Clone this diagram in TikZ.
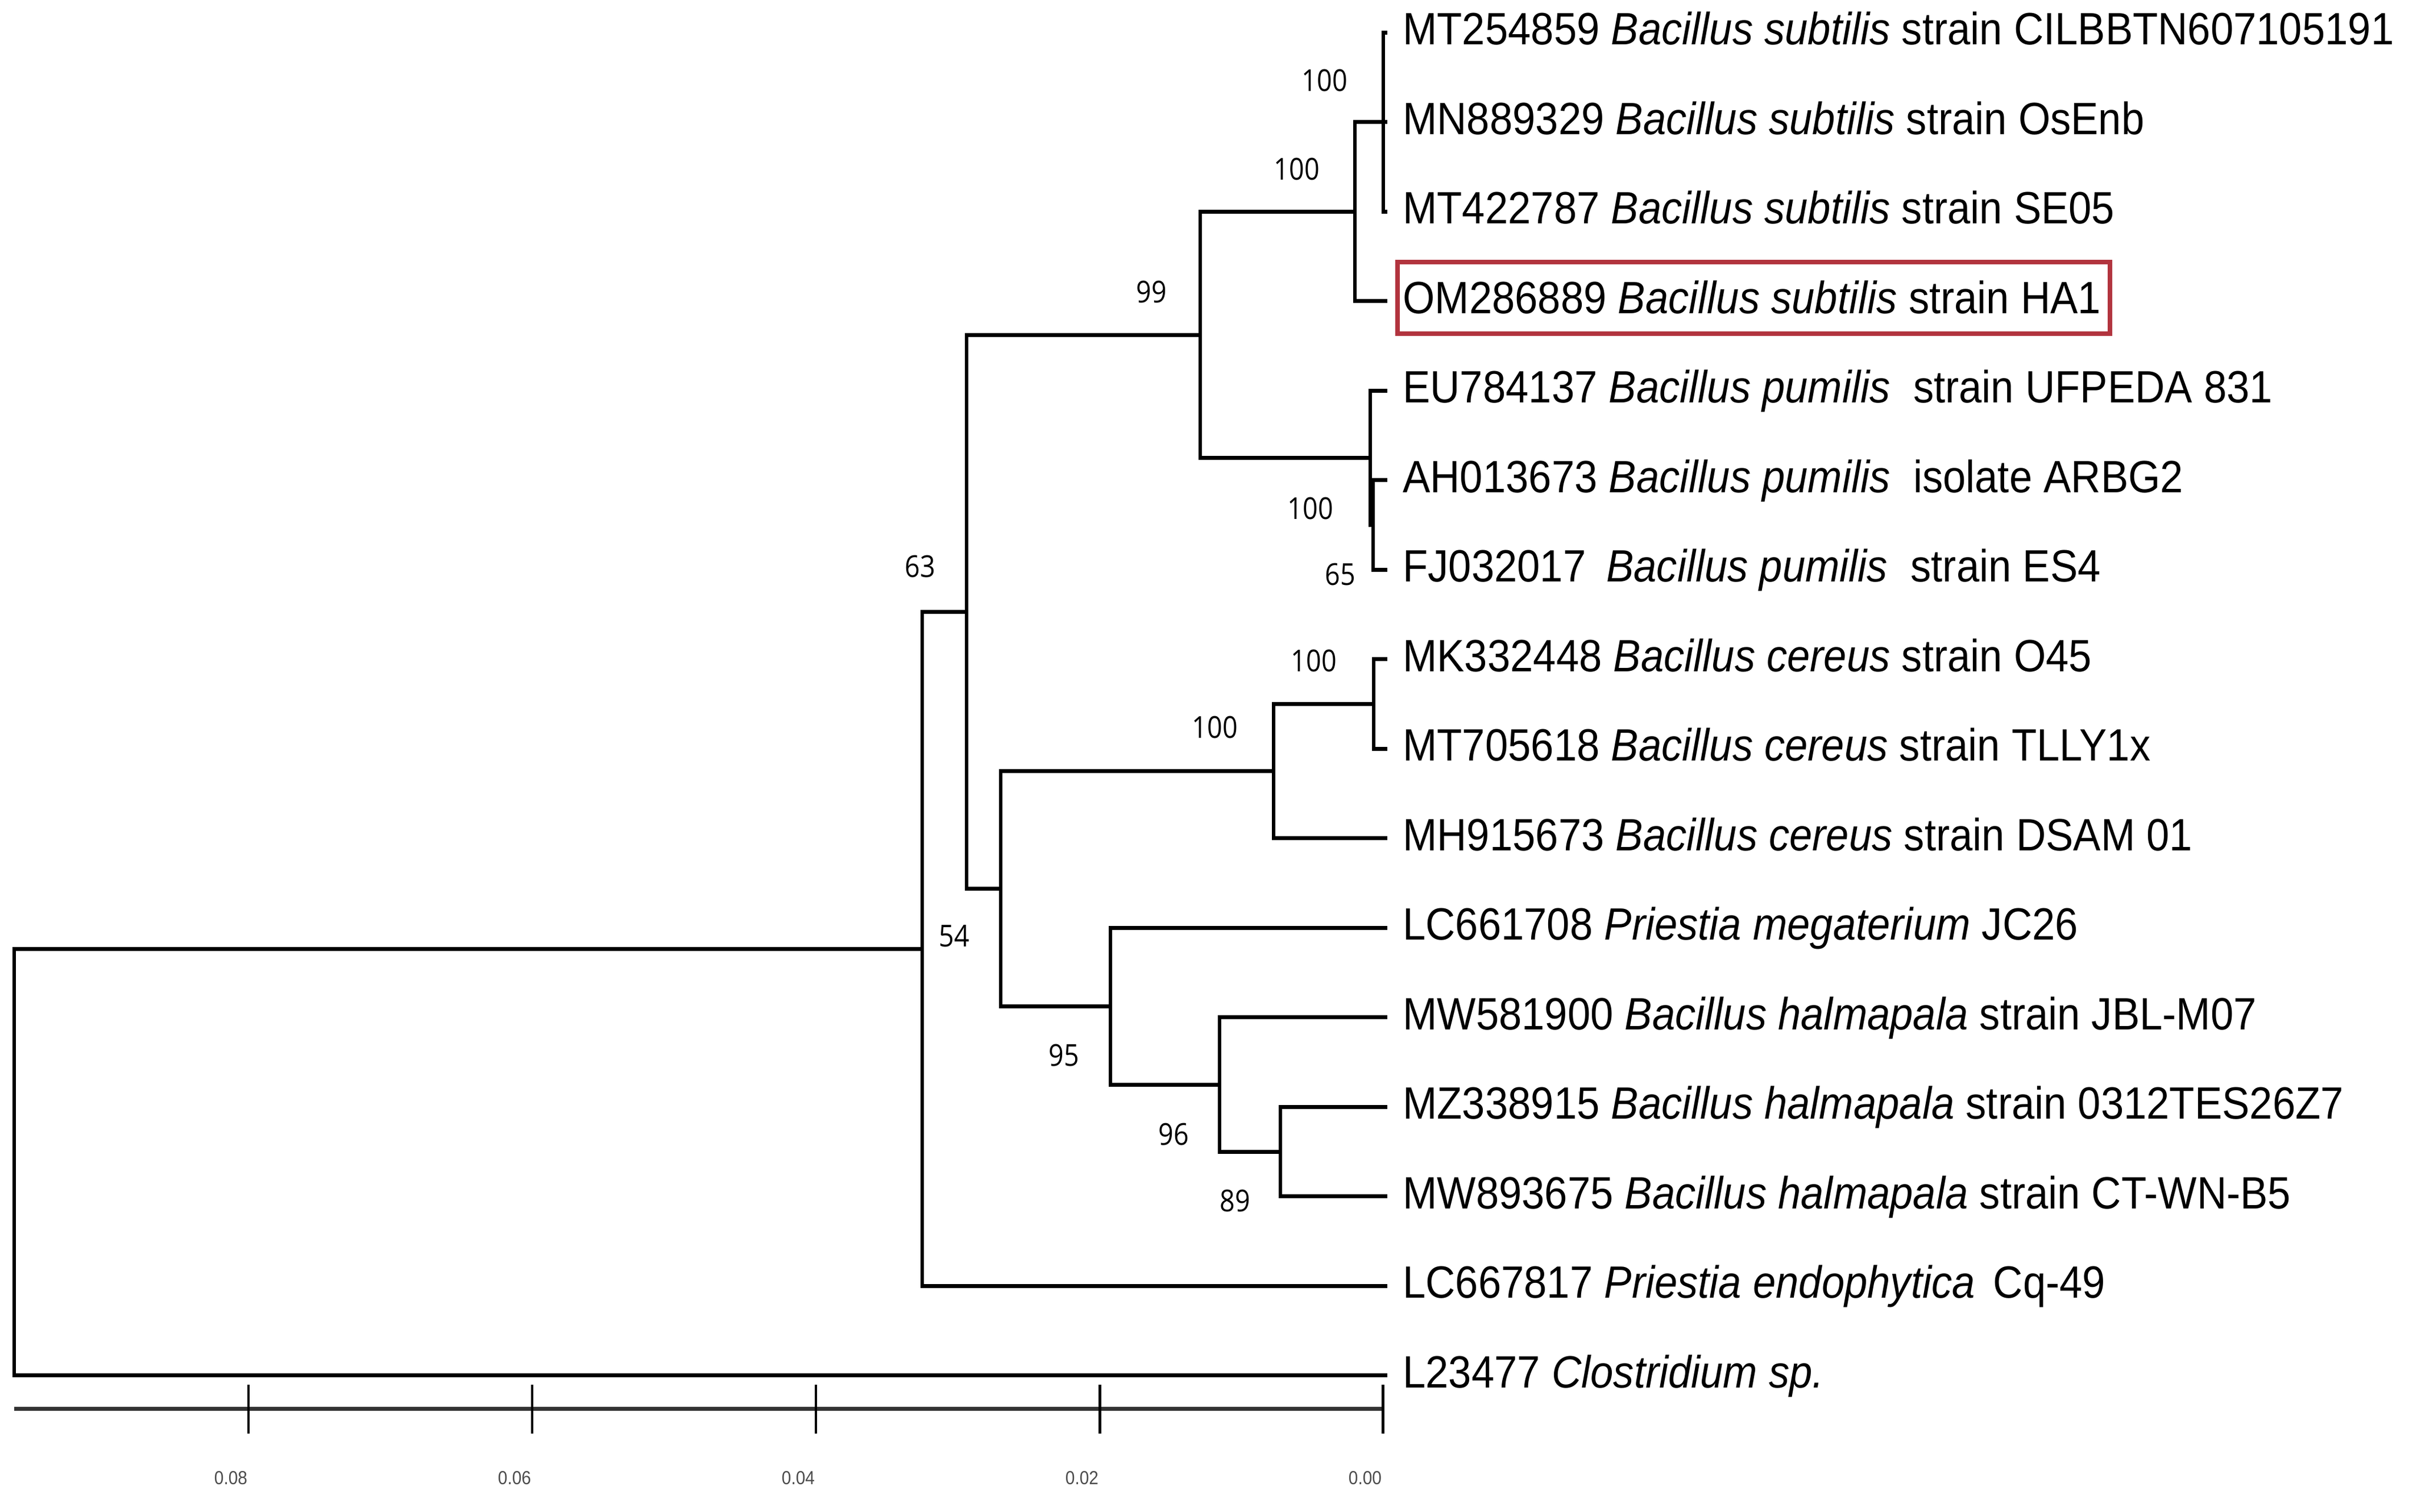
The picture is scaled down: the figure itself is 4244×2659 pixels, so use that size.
\documentclass[tikz,border=0pt]{standalone}
\usepackage{fontspec}
\usepackage{xcolor}
\newfontfamily\taxonfont{Liberation Sans}[FakeStretch=0.91]
\newfontfamily\bootfont{Open Sans}[FakeStretch=0.88]
\newfontfamily\barfont{Liberation Sans}[FakeStretch=0.9]
\definecolor{hlred}{RGB}{178,52,62}

\begin{document}
\begin{tikzpicture}[x=0.053mm, y=-0.053mm,
  branch/.style={line width=1.05pt, line cap=rect},
  taxon/.style={anchor=base west, inner sep=0pt, font={\taxonfont\fontsize{12}{14}\selectfont}},
  boot/.style={inner sep=0pt, font={\bootfont\fontsize{8}{9}\selectfont}},
  scalebar/.style={line width=1.1pt, black!80},
  barTick/.style={line width=0.75pt},
  ticklabel/.style={inner sep=0pt, text=black!70, font={\barfont\fontsize{5}{6}\selectfont}},
  hlbox/.style={draw=hlred, line width=1.2pt}]
  \useasboundingbox (0,0) rectangle (4244,2659);

  % Define internal nodes
  \coordinate (root) at (25,1669);
  \coordinate (n54) at (1622,1669);
  \coordinate (n63) at (1700,1076);
  \coordinate (nC) at (2111,589);
  \coordinate (nB) at (2383,372);
  \coordinate (nA) at (2433,214.5);
  \coordinate (nD) at (2410,805);
  \coordinate (nE) at (2415,923);
  \coordinate (nF) at (1760,1563);
  \coordinate (nG) at (2240,1356);
  \coordinate (nK) at (2416,1238);
  \coordinate (nH) at (1953,1770);
  \coordinate (nI) at (2145,1908);
  \coordinate (nJ) at (2252,2026);

  % Define tips
  \coordinate (tMT254859) at (2437,57);
  \coordinate (tMN889329) at (2437,214.5);
  \coordinate (tMT422787) at (2437,372);
  \coordinate (tOM286889) at (2437,529.5);
  \coordinate (tEU784137) at (2437,687);
  \coordinate (tAH013673) at (2437,844.5);
  \coordinate (tFJ032017) at (2437,1002);
  \coordinate (tMK332448) at (2437,1159.5);
  \coordinate (tMT705618) at (2437,1317);
  \coordinate (tMH915673) at (2437,1474.5);
  \coordinate (tLC661708) at (2437,1632);
  \coordinate (tMW581900) at (2437,1789.5);
  \coordinate (tMZ338915) at (2437,1947);
  \coordinate (tMW893675) at (2437,2104.5);
  \coordinate (tLC667817) at (2437,2262);
  \coordinate (tL23477) at (2437,2419.5);

  % Connect nodes with branches
  \draw[branch] (root) |- (n54);
  \draw[branch] (root) |- (tL23477);
  \draw[branch] (n54) |- (n63);
  \draw[branch] (n54) |- (tLC667817);
  \draw[branch] (n63) |- (nC);
  \draw[branch] (n63) |- (nF);
  \draw[branch] (nC) |- (nB);
  \draw[branch] (nC) |- (nD);
  \draw[branch] (nB) |- (nA);
  \draw[branch] (nB) |- (tOM286889);
  \draw[branch] (nA) |- (tMT254859);
  \draw[branch] (nA) |- (tMN889329);
  \draw[branch] (nA) |- (tMT422787);
  \draw[branch] (nD) |- (tEU784137);
  \draw[branch] (nD) |- (nE);
  \draw[branch] (nE) |- (tAH013673);
  \draw[branch] (nE) |- (tFJ032017);
  \draw[branch] (nF) |- (nG);
  \draw[branch] (nF) |- (nH);
  \draw[branch] (nG) |- (nK);
  \draw[branch] (nG) |- (tMH915673);
  \draw[branch] (nK) |- (tMK332448);
  \draw[branch] (nK) |- (tMT705618);
  \draw[branch] (nH) |- (tLC661708);
  \draw[branch] (nH) |- (nI);
  \draw[branch] (nI) |- (tMW581900);
  \draw[branch] (nI) |- (nJ);
  \draw[branch] (nJ) |- (tMZ338915);
  \draw[branch] (nJ) |- (tMW893675);

  % Taxon labels
  \node[taxon] (lMT254859) at (2466,78.5) {MT254859 \textit{Bacillus subtilis} strain CILBBTN607105191};
  \node[taxon] (lMN889329) at (2466,236) {MN889329 \textit{Bacillus subtilis} strain OsEnb};
  \node[taxon] (lMT422787) at (2466,393.5) {MT422787 \textit{Bacillus subtilis} strain SE05};
  \node[taxon] (lOM286889) at (2466,551) {OM286889 \textit{Bacillus subtilis} strain HA1};
  \node[taxon] (lEU784137) at (2466,708.5) {EU784137 \textit{Bacillus pumilis}\ \ strain UFPEDA 831};
  \node[taxon] (lAH013673) at (2466,866) {AH013673 \textit{Bacillus pumilis}\ \ isolate ARBG2};
  \node[taxon] (lFJ032017) at (2466,1023.5) {FJ032017\hspace{0.45em}\textit{Bacillus pumilis}\ \ strain ES4};
  \node[taxon] (lMK332448) at (2466,1181) {MK332448 \textit{Bacillus cereus} strain O45};
  \node[taxon] (lMT705618) at (2466,1338.5) {MT705618 \textit{Bacillus cereus} strain TLLY1x};
  \node[taxon] (lMH915673) at (2466,1496) {MH915673 \textit{Bacillus cereus} strain DSAM 01};
  \node[taxon] (lLC661708) at (2466,1653.5) {LC661708 \textit{Priestia megaterium} JC26};
  \node[taxon] (lMW581900) at (2466,1811) {MW581900 \textit{Bacillus halmapala} strain JBL-M07};
  \node[taxon] (lMZ338915) at (2466,1968.5) {MZ338915 \textit{Bacillus halmapala} strain 0312TES26Z7};
  \node[taxon] (lMW893675) at (2466,2126) {MW893675 \textit{Bacillus halmapala} strain CT-WN-B5};
  \node[taxon] (lLC667817) at (2466,2283.5) {LC667817 \textit{Priestia endophytica}\hspace{0.4em}Cq-49};
  \node[taxon] (lL23477) at (2466,2441) {L23477 \textit{Clostridium sp.}};

  % Highlight for the new isolate
  \draw[hlbox] (2458,461) rectangle (3711,587);

  % Bootstrap values
  \node[boot] (bA) at (2330,141) {100};
  \node[boot] (bB) at (2281,297) {100};
  \node[boot] (bC) at (2025,514) {99};
  \node[boot] (bD) at (2305,894) {100};
  \node[boot] (bE) at (2357,1011) {65};
  \node[boot] (b63) at (1618,997) {63};
  \node[boot] (bK) at (2311,1162) {100};
  \node[boot] (bG) at (2137,1279) {100};
  \node[boot] (b54) at (1678,1647) {54};
  \node[boot] (bH) at (1871,1857) {95};
  \node[boot] (bI) at (2064,1996) {96};
  \node[boot] (bJ) at (2172,2113) {89};

  % Scale bar
  \coordinate (barL) at (25,2478.6);
  \coordinate (barR) at (2432,2478.6);
  \draw[scalebar] (barL) -- (barR);
  \foreach \x/\lab [count=\i] in {437/0.08, 936/0.06, 1435/0.04, 1934/0.02, 2432/0.00} {
    \draw[barTick] (\x,2436) -- (\x,2522);
    \node[ticklabel] (scale\i) at (\x-31,2600) {\lab};
  }
\end{tikzpicture}
\end{document}
